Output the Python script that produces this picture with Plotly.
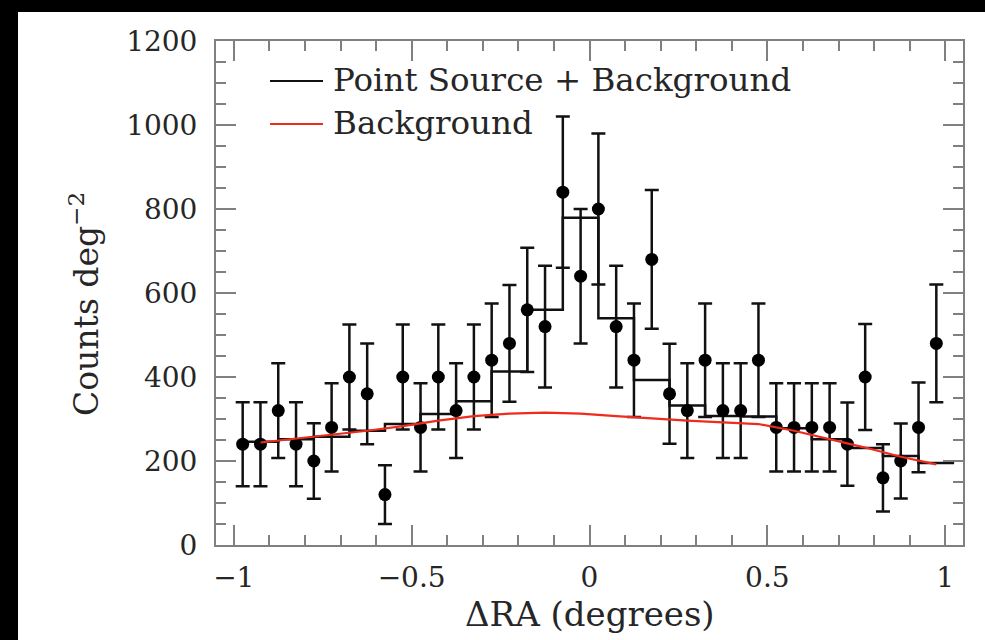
import plotly.graph_objects as go

# Data points (ΔRA bin centers, counts per deg^2, symmetric errors)
x_pts = [-0.975, -0.925, -0.875, -0.825, -0.775, -0.725, -0.675, -0.625, -0.575, -0.525,
         -0.475, -0.425, -0.375, -0.325, -0.275, -0.225, -0.175, -0.125, -0.075, -0.025,
         0.025, 0.075, 0.125, 0.175, 0.225, 0.275, 0.325, 0.375, 0.425, 0.475,
         0.525, 0.575, 0.625, 0.675, 0.725, 0.775, 0.825, 0.875, 0.925, 0.975]
y_pts = [240, 240, 320, 240, 200, 280, 400, 360, 120, 400,
         280, 400, 320, 400, 440, 480, 560, 520, 840, 640,
         800, 520, 440, 680, 360, 320, 440, 320, 320, 440,
         280, 280, 280, 280, 240, 400, 160, 200, 280, 480]
err_pts = [100, 100, 113, 100, 90, 105, 125, 120, 70, 125,
           105, 125, 113, 125, 135, 139, 148, 145, 180, 160,
           180, 145, 135, 165, 119, 113, 135, 113, 113, 135,
           105, 105, 105, 105, 99, 126, 80, 89, 107, 140]

# Model (point source + background), step histogram at coarser bins
model_centers = [-0.925, -0.825, -0.725, -0.625, -0.525, -0.425, -0.325, -0.225, -0.125, -0.025,
                 0.075, 0.175, 0.275, 0.375, 0.475, 0.575, 0.675, 0.775, 0.875, 0.975]
model_vals = [246, 252, 258, 272, 288, 312, 342, 413, 560, 779,
              540, 393, 332, 307, 306, 278, 252, 231, 212, 195]

# Background-only model
bg_vals = [244, 253, 262, 272, 283, 296, 307, 313, 315, 313,
           307, 301, 296, 292, 288, 272, 252, 232, 210, 192]

x_ticks = [-1, -0.5, 0, 0.5, 1]
x_ticktext = ["\u22121", "\u22120.5", "0", "0.5", "1"]
y_ticks = [0, 200, 400, 600, 800, 1000, 1200]

legend_labels = ["Point Source + Background", "Background"]
x_title = "\u0394RA (degrees)"
y_title = "Counts deg<sup>\u22122</sup>"

FONT = "DejaVu Serif"
AX_COLOR = "#808080"
TXT_COLOR = "#262626"
RED = "#ee2b1c"

# build step edges from model centers
half = (model_centers[1] - model_centers[0]) / 2
step_x = [c - half for c in model_centers] + [model_centers[-1] + half]
step_y = model_vals + [model_vals[-1]]

fig = go.Figure()

fig.add_trace(go.Scatter(
    x=step_x, y=step_y, mode="lines", line=dict(color="#111111", width=2.5, shape="hv"),
    name=legend_labels[0], showlegend=False, hoverinfo="skip"))

fig.add_trace(go.Scatter(
    x=x_pts, y=y_pts, mode="markers",
    marker=dict(color="black", size=13),
    error_y=dict(type="data", array=err_pts, visible=True, color="#111111", thickness=2.5, width=7),
    showlegend=False))

fig.add_trace(go.Scatter(
    x=model_centers, y=bg_vals, mode="lines", line=dict(color=RED, width=2.2),
    name=legend_labels[1], showlegend=False))

W, H = 985, 640
L, R, T = 216, 22, 41
B = H - 545
pw, ph = W - L - R, H - T - B

def px(xp):
    return (xp - L) / pw

def py(yp):
    return (H - B - yp) / ph

shapes = [
    # black frame: top band and left band (kept inside the figure)
    dict(type="rect", xref="paper", yref="paper", layer="below",
         x0=px(0), x1=px(W), y0=py(12), y1=py(0),
         fillcolor="black", line=dict(width=0)),
    dict(type="rect", xref="paper", yref="paper", layer="below",
         x0=px(0), x1=px(18), y0=py(H), y1=py(0),
         fillcolor="black", line=dict(width=0)),
    # legend lines
    dict(type="line", xref="paper", yref="paper", x0=px(270), x1=px(323), y0=py(81), y1=py(81),
         line=dict(color="#111111", width=2)),
    dict(type="line", xref="paper", yref="paper", x0=px(270), x1=px(323), y0=py(124), y1=py(124),
         line=dict(color=RED, width=2)),
]

annotations = [
    dict(xref="paper", yref="paper", x=px(331), y=py(80), text=legend_labels[0],
         showarrow=False, xanchor="left", yanchor="middle",
         font=dict(family=FONT, size=32.5, color=TXT_COLOR)),
    dict(xref="paper", yref="paper", x=px(331), y=py(123), text=legend_labels[1],
         showarrow=False, xanchor="left", yanchor="middle",
         font=dict(family=FONT, size=32.5, color=TXT_COLOR)),
    dict(xref="paper", yref="paper", x=px(85), y=py(304), text=y_title, textangle=-90,
         showarrow=False, xanchor="center", yanchor="middle",
         font=dict(family=FONT, size=33, color=TXT_COLOR)),
    dict(xref="paper", yref="paper", x=px(590), y=py(614), text=x_title,
         showarrow=False, xanchor="center", yanchor="middle",
         font=dict(family=FONT, size=34, color=TXT_COLOR)),
]

axis_common = dict(
    showline=True, linecolor=AX_COLOR, linewidth=2, mirror="ticks",
    ticks="inside", ticklen=20, tickwidth=2, tickcolor=AX_COLOR,
    showgrid=False, zeroline=False,
    tickfont=dict(family=FONT, size=28, color=TXT_COLOR),
)

fig.update_layout(
    width=W, height=H,
    margin=dict(l=L, r=R, t=T, b=B),
    paper_bgcolor="white", plot_bgcolor="white",
    shapes=shapes, annotations=annotations,
    xaxis=dict(range=[-1.05, 1.05], tickmode="array", tickvals=x_ticks, ticktext=x_ticktext,
               minor=dict(dtick=0.1, tick0=0, ticks="inside", ticklen=10, tickwidth=2, tickcolor=AX_COLOR),
               ticklabelstandoff=6,
               **axis_common),
    yaxis=dict(range=[0, 1200], tickmode="array", tickvals=y_ticks,
               minor=dict(dtick=50, tick0=0, ticks="inside", ticklen=10, tickwidth=2, tickcolor=AX_COLOR),
               ticklabelstandoff=11,
               **axis_common),
    showlegend=False,
)

fig.write_html("out.html")
